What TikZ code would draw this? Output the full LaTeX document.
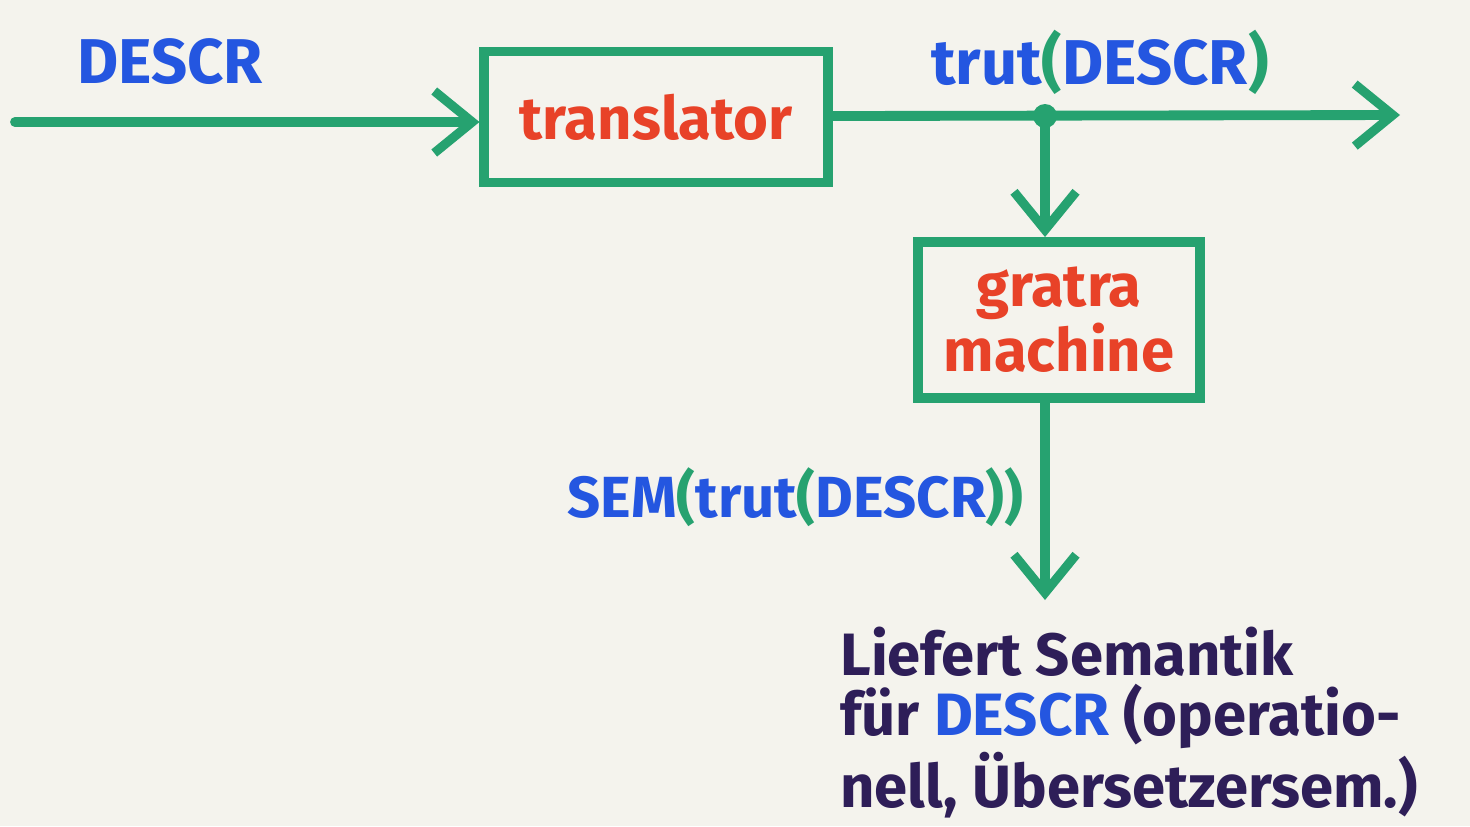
\documentclass[tikz,border=0pt]{standalone}
\usepackage{fontspec}
\setmainfont{Fira Sans}
\usetikzlibrary{arrows.meta,positioning}

\definecolor{paper}{RGB}{244,243,237}
\definecolor{mgreen}{RGB}{38,162,112}
\definecolor{mblue}{RGB}{36,86,224}
\definecolor{mred}{RGB}{232,66,40}
\definecolor{mink}{RGB}{46,30,88}

\newcommand{\gp}[1]{{\color{mgreen}#1}}

\tikzset{
  pen/.style={mgreen,line width=2.8pt,line cap=round},
  tip/.style={-{Straight Barb[length=0.38cm,width=0.62cm,line width=2.6pt]}},
  box/.style={draw=mgreen,line width=2.8pt,text=mred,font=\bfseries\fontsize{17}{16}\selectfont,align=center},
  lbl/.style={text=mblue,font=\bfseries\fontsize{18}{18}\selectfont},
  note/.style={text=mink,font=\bfseries\fontsize{17}{17}\selectfont,align=left}
}

\begin{document}
\begin{tikzpicture}[x=0.01cm,y=-0.01cm]

\fill[paper] (0,0) rectangle (1470,826);
\useasboundingbox (0,0) rectangle (1470,826);

% the two machines
\node[box,minimum width=3.43cm,minimum height=1.31cm] (trans) at (656,117) {translator};
\node[box,minimum width=2.82cm,minimum height=1.56cm] (gratra) at (1059,320) {gratra\\machine};

\coordinate (in) at (15,122);
\coordinate (out) at (1400,115);
\coordinate (split) at (1045,116);
\coordinate (sem) at (1045,600);

\draw[pen,tip] (in) -- (trans.west |- in);
\draw[pen,tip] (trans.east |- split) -- (out);
\draw[pen,tip] (split) -- (split |- gratra.north);
\draw[pen,tip] (gratra.south -| split) -- (sem);
\fill[mgreen] (split) circle (0.12cm);

% labels
\node[lbl] (descr) at (170,62) {DESCR};
\node[lbl] (trut) at (1100,62) {trut\gp{(}DESCR\gp{)}};
\node[lbl,anchor=east,font=\bfseries\fontsize{16.5}{18}\selectfont] (semlbl) at (1036,497) {SEM\gp{(}trut\gp{(}DESCR\gp{))}};

\node[note,anchor=north west] (text) at (828,615)
  {Liefert Semantik\\für {\color{mblue}DESCR} (operatio-\\nell, Übersetzersem.)};

\end{tikzpicture}
\end{document}
